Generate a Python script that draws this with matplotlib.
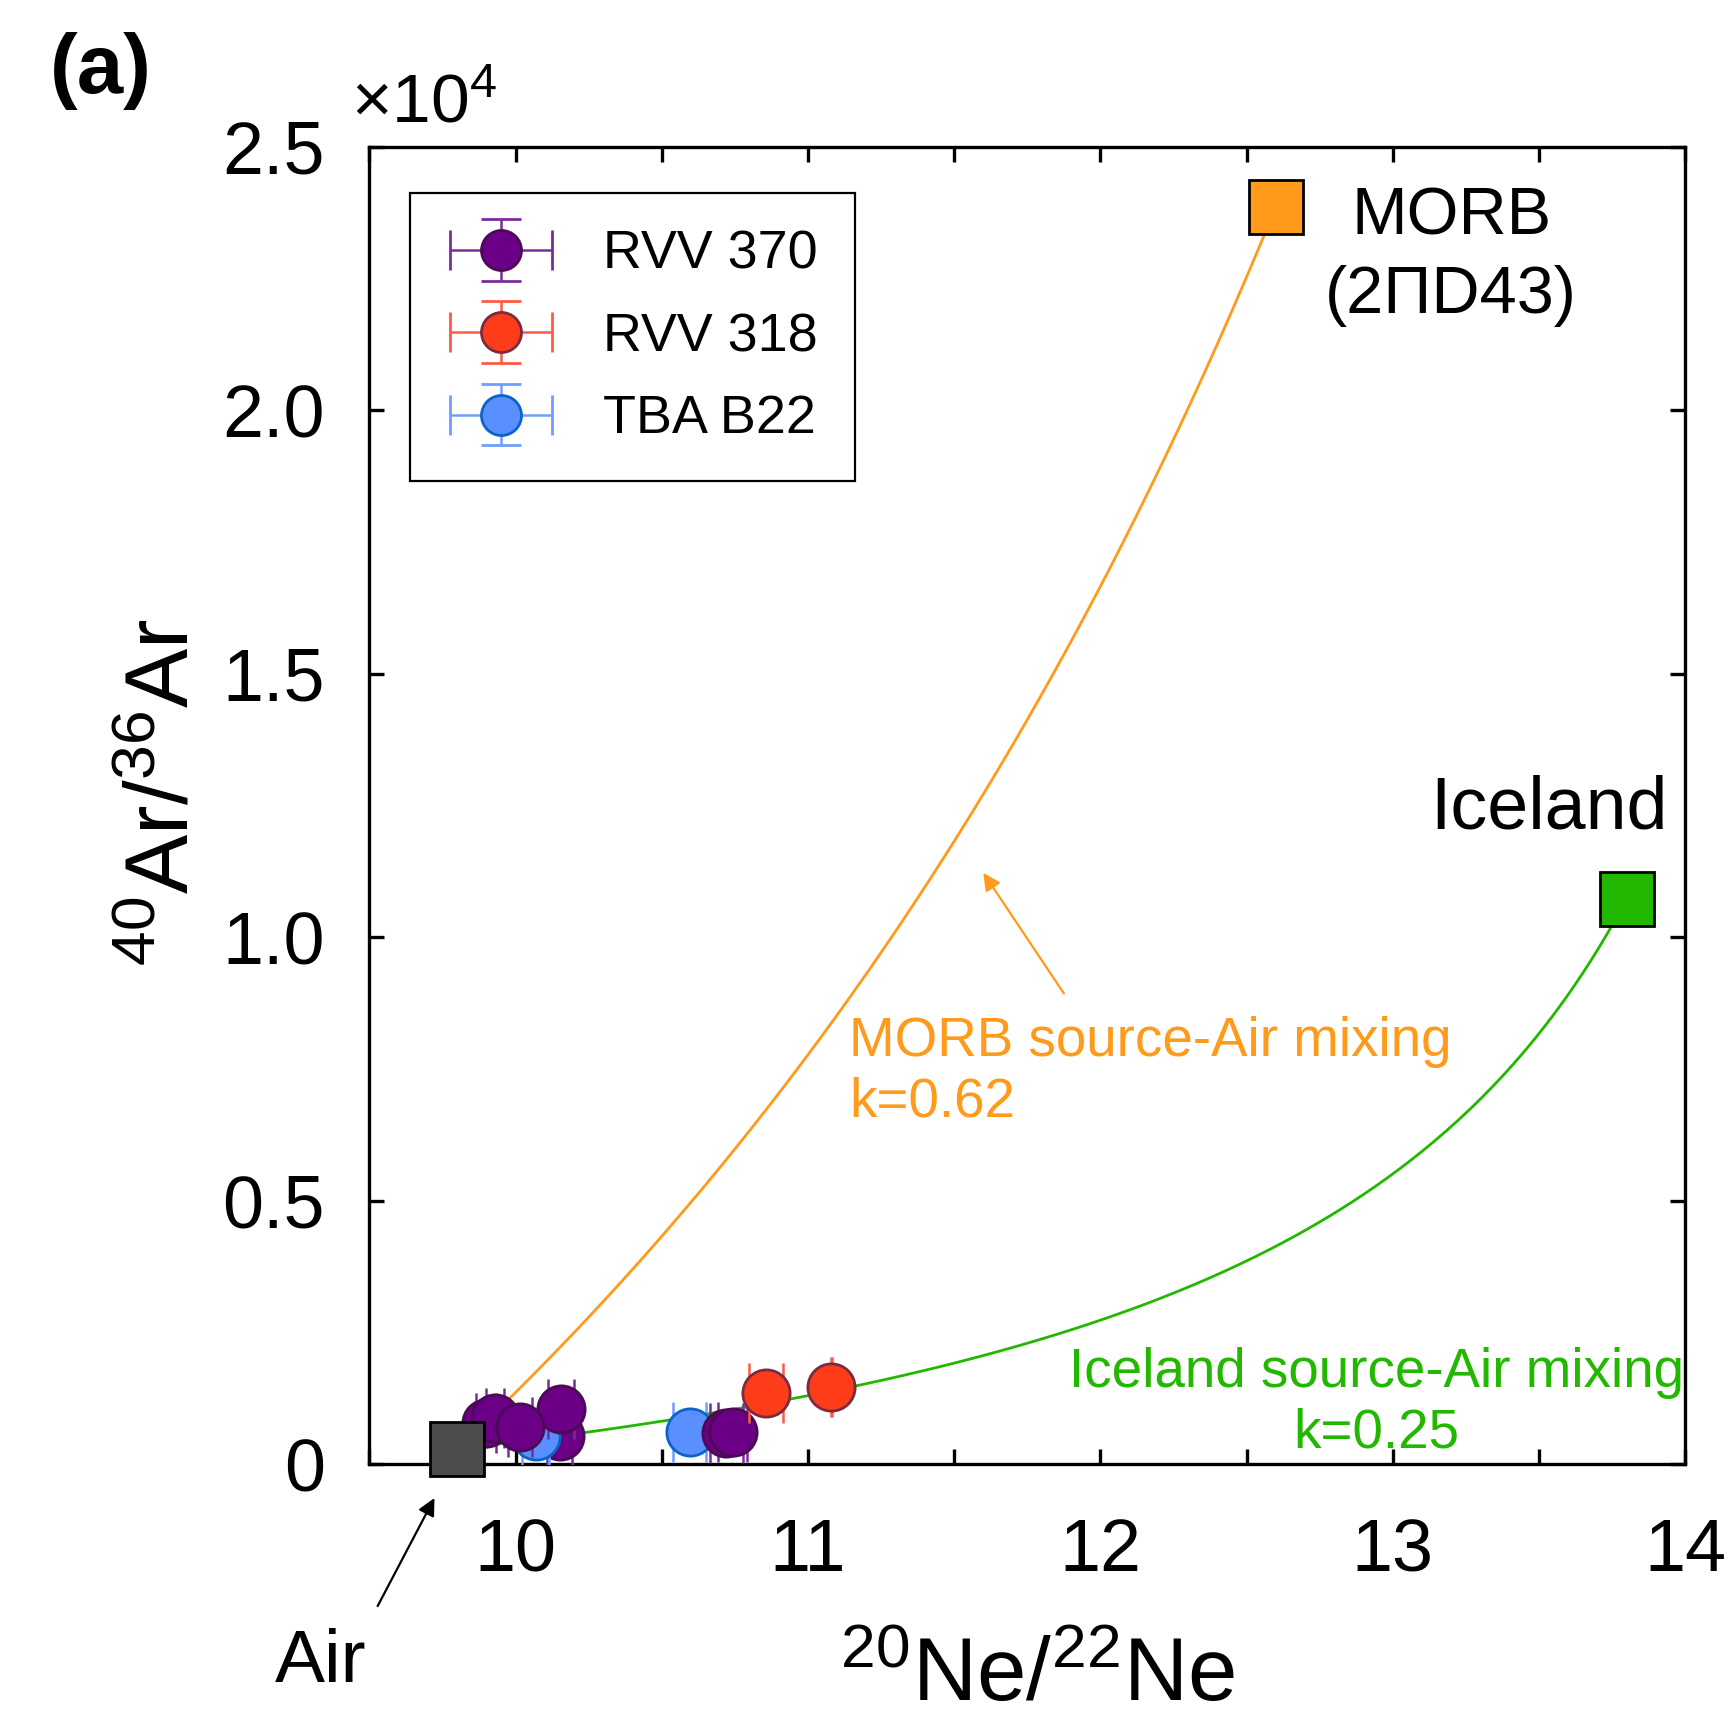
import matplotlib
matplotlib.use('Agg')
import matplotlib.pyplot as plt
import numpy as np
from matplotlib.container import ErrorbarContainer
from matplotlib.legend_handler import HandlerErrorbar

plt.rcParams['font.family'] = ['Liberation Sans', 'DejaVu Sans']
plt.rcParams['mathtext.fontset'] = 'custom'
plt.rcParams['mathtext.rm'] = 'Liberation Sans'
plt.rcParams['mathtext.it'] = 'Liberation Sans:italic'
plt.rcParams['mathtext.bf'] = 'Liberation Sans:bold'

# samples (20Ne/22Ne, 40Ar/36Ar, x error)
rvv370_x = [10.155, 9.898, 9.929, 10.015, 10.721, 10.742]
rvv370_y = [1045, 780, 875, 715, 596, 615]
rvv370_xerr = [0.043, 0.035, 0.03, 0.04, 0.057, 0.049]
rvv370_extra_x = [10.151]
rvv370_extra_y = [539]
rvv370_extra_xerr = [0.043]

rvv318_x = [10.857, 11.079]
rvv318_y = [1349, 1462]
rvv318_xerr = [0.058, 0.002]

tba_x = [10.069, 10.595]
tba_y = [539, 620]
tba_xerr = [0.046, 0.057]

# end members
air = (9.8, 295.5)
morb = (12.6, 23860)
iceland = (13.8, 10730)
k_morb = 0.62
k_iceland = 0.25

xticks = [10, 11, 12, 13, 14]
xtick_labels = ['10', '11', '12', '13', '14']
xminor = [9.5, 10.5, 11.5, 12.5, 13.5]
yticks = [0, 5000, 10000, 15000, 20000, 25000]
ytick_labels = ['0', '0.5', '1.0', '1.5', '2.0', '2.5']

purple, purple_edge, purple_err = '#6B0087', '#4A0A55', '#7B2C9C'
red, red_edge, red_err = '#FF3C1A', '#7A2B40', '#FF5A45'
blue, blue_edge, blue_err = '#5A8FFF', '#0A64C8', '#6E9EFF'
orange = '#FF9A1A'
green = '#22B800'


def mixing(end, k, n=300):
    # fraction of 22Ne from the end member; 36Ar fraction follows b/(1-b) = k a/(1-a)
    a = np.linspace(0, 1, n)
    b = k * a / (1 - a + k * a)
    x = air[0] + a * (end[0] - air[0])
    y = air[1] + b * (end[1] - air[1])
    return x, y


fig = plt.figure(figsize=(8.645, 8.645), dpi=200)
ax = fig.add_axes([0.2137, 0.153, 0.7609, 0.762])

mx, my = mixing(morb, k_morb)
ax.plot(mx, my, color=orange, lw=1.0, zorder=2)
ix, iy = mixing(iceland, k_iceland)
ax.plot(ix, iy, color=green, lw=1.0, zorder=2)

cap = 10.8
msz = 17


def draw(xs, ys, xerr, fc, ec, errc, z):
    ax.errorbar(xs, ys, xerr=xerr, fmt='none', ecolor=errc, elinewidth=0.9,
                capsize=cap, capthick=0.9, zorder=z)
    ax.plot(xs, ys, 'o', ms=msz, mfc=fc, mec=ec, mew=1.0, ls='none', zorder=z + 0.5)


draw(rvv370_extra_x, rvv370_extra_y, rvv370_extra_xerr, purple, purple_edge, purple_err, 3)
draw(tba_x, tba_y, tba_xerr, blue, blue_edge, blue_err, 4)
draw(rvv370_x, rvv370_y, rvv370_xerr, purple, purple_edge, purple_err, 5)
draw(rvv318_x, rvv318_y, rvv318_xerr, red, red_edge, red_err, 6)

# legend handles
h1 = ax.errorbar([np.nan], [np.nan], xerr=[0.1], yerr=[100], fmt='o', ms=14.4, mfc=purple,
                 mec=purple_edge, mew=1.0, ecolor=purple_err, elinewidth=0.9, capsize=7.2,
                 label='RVV 370')
h2 = ax.errorbar([np.nan], [np.nan], xerr=[0.1], yerr=[100], fmt='o', ms=14.4, mfc=red,
                 mec=red_edge, mew=1.0, ecolor=red_err, elinewidth=0.9, capsize=7.2,
                 label='RVV 318')
h3 = ax.errorbar([np.nan], [np.nan], xerr=[0.1], yerr=[100], fmt='o', ms=14.4, mfc=blue,
                 mec=blue_edge, mew=1.0, ecolor=blue_err, elinewidth=0.9, capsize=7.2,
                 label='TBA B22')

# end-member squares
ax.plot(*air, 's', ms=19.5, mfc='#4D4D4D', mec='black', mew=1.0, clip_on=False, zorder=10)
ax.plot(*morb, 's', ms=19.5, mfc=orange, mec='black', mew=1.0, clip_on=False, zorder=10)
ax.plot(*iceland, 's', ms=19.5, mfc=green, mec='black', mew=1.0, clip_on=False, zorder=10)

ax.set_xlim(9.5, 14)
ax.set_ylim(0, 25000)
ax.set_xticks(xticks)
ax.set_xticklabels(xtick_labels)
ax.set_xticks(xminor, minor=True)
ax.set_yticks(yticks)
ax.set_yticklabels(ytick_labels)
ax.tick_params(which='both', direction='in', top=True, right=True, length=5.5, width=1.2,
               labelsize=26.5)
ax.tick_params(axis='x', pad=19)
ax.tick_params(axis='y', pad=16)
for s in ax.spines.values():
    s.set_linewidth(1.2)

ax.set_xlabel(r'$^{20}$Ne/$^{22}$Ne', fontsize=32)
ax.xaxis.set_label_coords(0.508, -0.13)
ax.set_ylabel(r'$^{40}$Ar/$^{36}$Ar', fontsize=32)
ax.yaxis.set_label_coords(-0.123, 0.51)

fig.text(0.029, 0.946, '(a)', fontsize=30, fontweight='bold', va='baseline')
fig.text(0.203, 0.929, '×10$^{4}$', fontsize=25, va='baseline')

ax.text(13.20, 24251, 'MORB\n(2ΠD43)', fontsize=24, ha='center', va='top',
        multialignment='center', linespacing=1.35)
ax.text(13.129, 12073, 'Iceland', fontsize=26.5, ha='left', va='baseline')
ax.text(11.141, 8506, 'MORB source-Air mixing\nk=0.62', fontsize=19.7, color=orange,
        ha='left', va='top')
ax.text(12.945, 2227, 'Iceland source-Air mixing\nk=0.25', fontsize=19.7, color=green,
        ha='center', va='top', multialignment='center')

ax.annotate('', xy=(11.589, 11314), xytext=(11.886, 8848),
            arrowprops=dict(arrowstyle='-|>', color=orange, lw=0.8, mutation_scale=13))
ax.annotate('', xy=(9.731, -543), xytext=(9.519, -2781), annotation_clip=False,
            arrowprops=dict(arrowstyle='-|>', color='black', lw=0.8, mutation_scale=13))
ax.text(9.178, -4128, 'Air', fontsize=27, ha='left', va='baseline', clip_on=False)

leg = ax.legend(handles=[h1, h2, h3], loc='upper left', bbox_to_anchor=(0.031, 0.965),
                borderaxespad=0, fontsize=19.4, frameon=True, fancybox=False,
                edgecolor='black', framealpha=1, borderpad=0.68, labelspacing=0.6,
                handlelength=2.0, handletextpad=0.9,
                handler_map={ErrorbarContainer: HandlerErrorbar(xerr_size=0.95, yerr_size=0.57)})
leg.get_frame().set_linewidth(0.8)

fig.savefig('out.png', dpi=200)
